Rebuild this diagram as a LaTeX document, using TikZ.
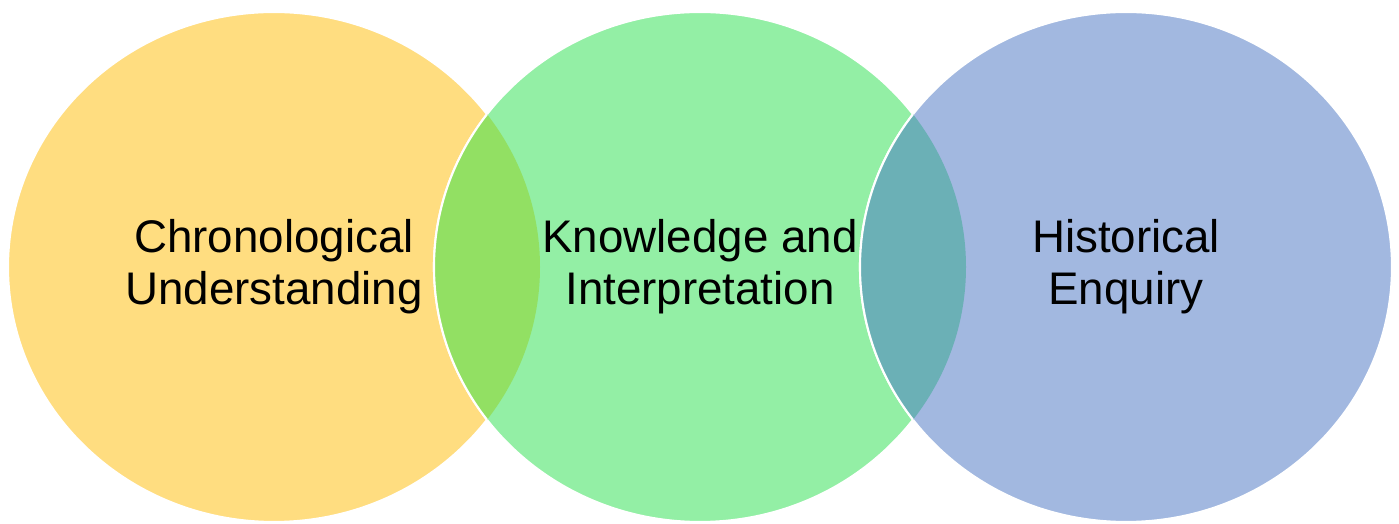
\documentclass[tikz,border=0pt]{standalone}
\usepackage{fontspec}
\setmainfont{Liberation Sans}

\definecolor{chronofill}{HTML}{FFDD80}
\definecolor{knowfill}{HTML}{93EFA5}
\definecolor{enqfill}{HTML}{A2B8E0}
\definecolor{lensleft}{HTML}{92E063}
\definecolor{lensright}{HTML}{6BB0B6}

\tikzset{
  ring/.style={draw=white, line width=0.6pt},
  skill/.style={align=center, text=black, font=\fontsize{13}{14.8}\selectfont}
}

% the three rings
\def\chronoring{(274,257) ellipse [x radius=266, y radius=255]}
\def\knowring{(700,257) ellipse [x radius=266, y radius=255]}
\def\enqring{(1126,257) ellipse [x radius=266, y radius=255]}

\begin{document}
\begin{tikzpicture}[x=0.01cm, y=0.01cm]
  \useasboundingbox (0,0) rectangle (1399,524);

  \fill[chronofill, ring] \chronoring;
  \fill[knowfill, ring] \knowring;
  \fill[enqfill, ring] \enqring;

  % overlaps
  \begin{scope}
    \clip \chronoring;
    \fill[lensleft, ring] \knowring;
  \end{scope}
  \begin{scope}
    \clip \knowring;
    \fill[lensright, ring] \enqring;
  \end{scope}

  \node[skill] (chrono) at (274,257) {Chronological\\Understanding};
  \node[skill] (know) at (700,257) {Knowledge and\\Interpretation};
  \node[skill] (enquiry) at (1126,257) {Historical\\Enquiry};
\end{tikzpicture}
\end{document}
